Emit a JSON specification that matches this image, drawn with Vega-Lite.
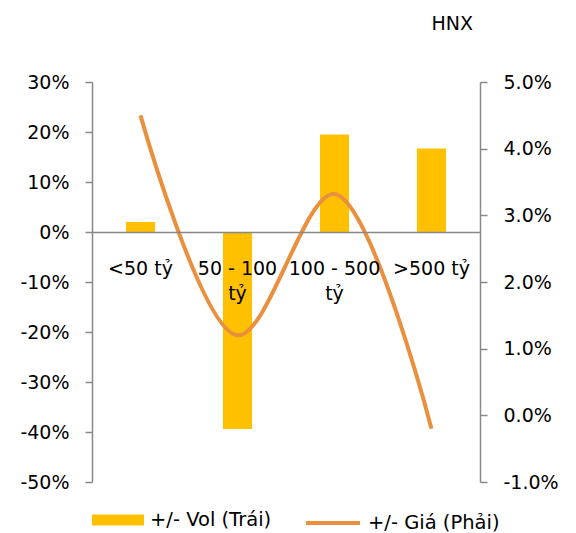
{
  "$schema": "https://vega.github.io/schema/vega-lite/v6.json",
  "width": 388,
  "height": 400,
  "padding": {"left": 19, "top": 15, "right": 5, "bottom": 0},
  "background": "white",
  "title": {"text": "HNX", "anchor": "end", "frame": "group", "fontSize": 19, "font": "DejaVu Sans", "fontWeight": "normal", "color": "#000000", "offset": 39, "dx": -7},
  "data": {"values": [
    {"cat": "<50 tỷ", "vol": 0.02, "gia": 0.045},
    {"cat": "50 - 100 tỷ", "vol": -0.394, "gia": 0.012},
    {"cat": "100 - 500 tỷ", "vol": 0.195, "gia": 0.0332},
    {"cat": ">500 tỷ", "vol": 0.167, "gia": -0.002}
  ]},
  "encoding": {
    "x": {
      "field": "cat", "type": "nominal", "sort": null,
      "scale": {"paddingInner": 0.7, "paddingOuter": 0.35},
      "axis": {
        "orient": "bottom", "offset": -250, "title": null, "ticks": false, "zindex": 1,
        "domainColor": "#888888", "domainWidth": 1.5, "labelAngle": 0,
        "labelPadding": 27, "labelFontSize": 19, "labelColor": "#000000",
        "labelLineHeight": 25, "labelOverlap": false, "labelLimit": 0,
        "labelExpr": "datum.label == '50 - 100 tỷ' ? ['50 - 100', 'tỷ'] : datum.label == '100 - 500 tỷ' ? ['100 - 500', 'tỷ'] : datum.label"
      }
    }
  },
  "layer": [
    {
      "mark": {"type": "bar"},
      "encoding": {
        "y": {
          "field": "vol", "type": "quantitative",
          "scale": {"domain": [-0.5, 0.3], "nice": false, "zero": false},
          "axis": {
            "orient": "left", "title": null, "grid": false, "format": ".0%",
            "labelExpr": "replace(datum.label, '\u2212', '-')",
            "values": [-0.5, -0.4, -0.3, -0.2, -0.1, 0, 0.1, 0.2, 0.3],
            "tickSize": 7, "tickColor": "#888888", "tickWidth": 1.5, "domainColor": "#888888", "domainWidth": 1.5,
            "labelPadding": 16, "labelFontSize": 19, "labelColor": "#000000"
          }
        },
        "fill": {
          "datum": "+/- Vol (Trái)",
          "scale": {"range": ["#FFC000"]},
          "legend": {"symbolType": "M-1,-0.21H1V0.21H-1Z", "symbolSize": 2704, "symbolStrokeWidth": 0, "symbolFillColor": "#FFC000", "symbolOpacity": 1, "symbolOffset": 0}
        }
      }
    },
    {
      "mark": {"type": "line", "interpolate": "catmull-rom", "strokeWidth": 4, "color": "#EA8F3D"},
      "encoding": {
        "y": {
          "field": "gia", "type": "quantitative",
          "scale": {"domain": [-0.01, 0.05], "nice": false, "zero": false},
          "axis": {
            "orient": "right", "title": null, "grid": false, "format": ".1%",
            "labelExpr": "replace(datum.label, '\u2212', '-')",
            "values": [-0.01, 0, 0.01, 0.02, 0.03, 0.04, 0.05],
            "tickSize": 7, "tickColor": "#888888", "tickWidth": 1.5, "domainColor": "#888888", "domainWidth": 1.5,
            "labelPadding": 16, "labelFontSize": 19, "labelColor": "#000000"
          }
        },
        "stroke": {
          "datum": "+/- Giá (Phải)",
          "scale": {"range": ["#EA8F3D"]},
          "legend": {"symbolType": "stroke", "symbolSize": 2916, "symbolStrokeWidth": 4, "symbolOffset": 24}
        }
      }
    }
  ],
  "resolve": {"scale": {"y": "independent"}},
  "config": {
    "font": "DejaVu Sans",
    "view": {"stroke": null},
    "legend": {"orient": "bottom", "direction": "horizontal", "title": null, "labelFontSize": 19.5, "labelColor": "#000000", "labelOffset": 6, "offset": 12, "padding": 0}
  }
}
